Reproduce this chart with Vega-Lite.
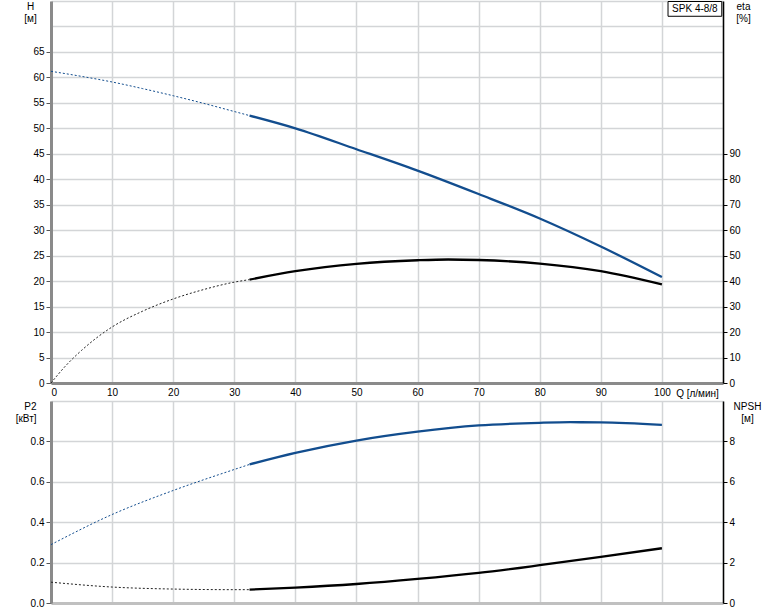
{
  "$schema": "https://vega.github.io/schema/vega-lite/v6.json",
  "padding": {"left": 15, "top": 1, "right": 5, "bottom": 5},
  "background": "white",
  "config": {
    "view": {"stroke": null},
    "font": "Liberation Sans",
    "axis": {
      "labelFont": "Liberation Sans", "labelFontSize": 10, "labelColor": "#000",
      "titleFont": "Liberation Sans", "titleFontSize": 10, "titleFontWeight": "normal", "titleColor": "#000",
      "gridColor": "#d3d5d7", "gridWidth": 1.5, "titleLineHeight": 12, "labelOverlap": false
    }
  },
  "datasets": {
    "h": [
      {"Q": 0, "H": 61.2, "part": "d"}, {"Q": 5, "H": 60.2, "part": "d"}, {"Q": 10, "H": 59.1, "part": "d"},
      {"Q": 15, "H": 57.8, "part": "d"}, {"Q": 20, "H": 56.4, "part": "d"}, {"Q": 25, "H": 54.9, "part": "d"},
      {"Q": 30, "H": 53.3, "part": "d"}, {"Q": 32.5, "H": 52.5, "part": "d"},
      {"Q": 32.5, "H": 52.5, "part": "s"}, {"Q": 40, "H": 50.0, "part": "s"}, {"Q": 50, "H": 45.9, "part": "s"},
      {"Q": 60, "H": 41.7, "part": "s"}, {"Q": 70, "H": 37.1, "part": "s"}, {"Q": 80, "H": 32.3, "part": "s"},
      {"Q": 90, "H": 26.8, "part": "s"}, {"Q": 100, "H": 20.8, "part": "s"}
    ],
    "eta": [
      {"Q": 0, "eta": 0, "part": "d"}, {"Q": 2.5, "eta": 7.0, "part": "d"}, {"Q": 5, "eta": 12.8, "part": "d"},
      {"Q": 7.5, "eta": 17.8, "part": "d"}, {"Q": 10, "eta": 22.0, "part": "d"},
      {"Q": 15, "eta": 28.2, "part": "d"}, {"Q": 20, "eta": 33.0, "part": "d"}, {"Q": 25, "eta": 36.7, "part": "d"},
      {"Q": 30, "eta": 39.6, "part": "d"}, {"Q": 32.5, "eta": 40.6, "part": "d"},
      {"Q": 32.5, "eta": 40.6, "part": "s"}, {"Q": 40, "eta": 43.9, "part": "s"}, {"Q": 50, "eta": 46.8, "part": "s"},
      {"Q": 60, "eta": 48.2, "part": "s"}, {"Q": 65, "eta": 48.5, "part": "s"}, {"Q": 70, "eta": 48.3, "part": "s"},
      {"Q": 80, "eta": 46.9, "part": "s"}, {"Q": 90, "eta": 43.9, "part": "s"}, {"Q": 100, "eta": 38.7, "part": "s"}
    ],
    "p2": [
      {"Q": 0, "P2": 0.289, "part": "d"}, {"Q": 10, "P2": 0.438, "part": "d"}, {"Q": 20, "P2": 0.557, "part": "d"},
      {"Q": 30, "P2": 0.661, "part": "d"}, {"Q": 32.5, "P2": 0.686, "part": "d"},
      {"Q": 32.5, "P2": 0.686, "part": "s"}, {"Q": 40, "P2": 0.743, "part": "s"}, {"Q": 50, "P2": 0.804, "part": "s"},
      {"Q": 60, "P2": 0.848, "part": "s"}, {"Q": 70, "P2": 0.879, "part": "s"}, {"Q": 80, "P2": 0.892, "part": "s"},
      {"Q": 85, "P2": 0.895, "part": "s"}, {"Q": 90, "P2": 0.894, "part": "s"}, {"Q": 100, "P2": 0.882, "part": "s"}
    ],
    "npsh": [
      {"Q": 0, "NPSH": 1.03, "part": "d"}, {"Q": 10, "NPSH": 0.79, "part": "d"}, {"Q": 20, "NPSH": 0.69, "part": "d"},
      {"Q": 30, "NPSH": 0.66, "part": "d"}, {"Q": 32.5, "NPSH": 0.66, "part": "d"},
      {"Q": 32.5, "NPSH": 0.66, "part": "s"}, {"Q": 40, "NPSH": 0.76, "part": "s"}, {"Q": 50, "NPSH": 0.94, "part": "s"},
      {"Q": 60, "NPSH": 1.19, "part": "s"}, {"Q": 70, "NPSH": 1.49, "part": "s"}, {"Q": 80, "NPSH": 1.87, "part": "s"},
      {"Q": 90, "NPSH": 2.28, "part": "s"}, {"Q": 100, "NPSH": 2.71, "part": "s"}
    ],
    "label": [{"name": "SPK 4-8/8"}]
  },
  "bounds": "flush",
  "spacing": 18,
  "vconcat": [
    {
      "width": 672,
      "height": 382,
      "layer": [
        {
          "layer": [
            {
              "data": {"name": "h"},
              "transform": [{"filter": "datum.part == 'd'"}],
              "mark": {"type": "line", "color": "#124d8e", "strokeWidth": 1, "strokeDash": [2, 2], "interpolate": "monotone"},
              "encoding": {
                "x": {
                  "field": "Q", "type": "quantitative",
                  "scale": {"domain": [0, 110], "nice": false, "zero": false},
                  "axis": {
                    "values": [0, 10, 20, 30, 40, 50, 60, 70, 80, 90, 100, 110], "tickCount": 30, "format": "d",
                    "labelExpr": "datum.value > 100 ? '' : datum.label",
                    "labelFontSize": {"condition": {"test": "datum.value > 100", "value": 0}, "value": 10},
                    "ticks": false, "labelPadding": 4,
                    "domainColor": "#8a8a8a", "domainWidth": 3,
                    "title": "Q [л/мин]", "titleX": 646, "titleY": 10,
                    "titleAlign": "center", "titleBaseline": "middle"
                  }
                },
                "y": {
                  "field": "H", "type": "quantitative",
                  "scale": {"domain": [0, 75], "nice": false},
                  "axis": {
                    "values": [0, 5, 10, 15, 20, 25, 30, 35, 40, 45, 50, 55, 60, 65, 70, 75], "tickCount": 30, "format": "d",
                    "labelExpr": "datum.value > 65 ? '' : datum.label",
                    "labelFontSize": {"condition": {"test": "datum.value > 65", "value": 0}, "value": 10},
                    "tickOpacity": {"condition": {"test": "datum.value > 65", "value": 0}, "value": 1},
                    "tickSize": 5, "tickColor": "#555", "labelPadding": 2,
                    "domainColor": "#8a8a8a", "domainWidth": 3,
                    "title": ["H", "[м]"], "titleAngle": 0, "titleAlign": "center", "titleBaseline": "top",
                    "titleX": -21, "titleY": 0
                  }
                }
              }
            },
            {
              "data": {"name": "h"},
              "transform": [{"filter": "datum.part == 's'"}],
              "mark": {"type": "line", "color": "#124d8e", "strokeWidth": 2.3, "interpolate": "monotone"},
              "encoding": {
                "x": {"field": "Q", "type": "quantitative"},
                "y": {"field": "H", "type": "quantitative"}
              }
            },
            {
              "data": {"name": "label"},
              "mark": {"type": "rect", "fill": "white", "stroke": "#000", "strokeWidth": 1},
              "encoding": {
                "x": {"datum": 101},
                "x2": {"datum": 109.8},
                "y": {"datum": 72},
                "y2": {"datum": 74.9}
              }
            },
            {
              "data": {"name": "label"},
              "mark": {"type": "text", "fontSize": 10, "font": "Liberation Sans", "color": "#000", "align": "center", "baseline": "middle"},
              "encoding": {
                "x": {"datum": 105.4},
                "y": {"datum": 73.5},
                "text": {"field": "name"}
              }
            }
          ]
        },
        {
          "layer": [
            {
              "data": {"name": "eta"},
              "transform": [{"filter": "datum.part == 'd'"}],
              "mark": {"type": "line", "color": "#222", "strokeWidth": 1, "strokeDash": [2, 2], "interpolate": "monotone"},
              "encoding": {
                "x": {"field": "Q", "type": "quantitative"},
                "y": {
                  "field": "eta", "type": "quantitative",
                  "scale": {"domain": [0, 150], "nice": false},
                  "axis": {
                    "orient": "right", "grid": false,
                    "values": [0, 10, 20, 30, 40, 50, 60, 70, 80, 90, 100, 110, 120, 130, 140, 150], "tickCount": 30, "format": "d",
                    "labelExpr": "datum.value > 90 ? '' : datum.label",
                    "labelFontSize": {"condition": {"test": "datum.value > 90", "value": 0}, "value": 10},
                    "tickOpacity": {"condition": {"test": "datum.value > 90", "value": 0}, "value": 1},
                    "tickSize": 4, "tickColor": "#000", "labelPadding": 2,
                    "domainColor": "#000", "domainWidth": 1.5,
                    "title": ["eta", "[%]"], "titleAngle": 0, "titleAlign": "center", "titleBaseline": "top",
                    "titleX": 20, "titleY": 0
                  }
                }
              }
            },
            {
              "data": {"name": "eta"},
              "transform": [{"filter": "datum.part == 's'"}],
              "mark": {"type": "line", "color": "#000", "strokeWidth": 2.3, "interpolate": "monotone"},
              "encoding": {
                "x": {"field": "Q", "type": "quantitative"},
                "y": {"field": "eta", "type": "quantitative"}
              }
            }
          ]
        }
      ],
      "resolve": {"scale": {"y": "independent"}}
    },
    {
      "width": 672,
      "height": 202,
      "layer": [
        {
          "layer": [
            {
              "data": {"name": "p2"},
              "transform": [{"filter": "datum.part == 'd'"}],
              "mark": {"type": "line", "color": "#124d8e", "strokeWidth": 1, "strokeDash": [2, 2], "interpolate": "monotone"},
              "encoding": {
                "x": {
                  "field": "Q", "type": "quantitative",
                  "scale": {"domain": [0, 110], "nice": false, "zero": false},
                  "axis": {
                    "values": [0, 10, 20, 30, 40, 50, 60, 70, 80, 90, 100, 110], "tickCount": 30,
                    "labels": false, "ticks": false, "title": null,
                    "domainColor": "#c0c0c0", "domainWidth": 3
                  }
                },
                "y": {
                  "field": "P2", "type": "quantitative",
                  "scale": {"domain": [0, 1], "nice": false},
                  "axis": {
                    "values": [0, 0.2, 0.4, 0.6, 0.8, 1.0], "tickCount": 30,
                    "format": ".1f",
                    "labelExpr": "datum.value > 0.9 ? '' : datum.label",
                    "labelFontSize": {"condition": {"test": "datum.value > 0.9", "value": 0}, "value": 10},
                    "tickOpacity": {"condition": {"test": "datum.value > 0.9", "value": 0}, "value": 1},
                    "tickSize": 5, "tickColor": "#555", "labelPadding": 2,
                    "domainColor": "#8a8a8a", "domainWidth": 3,
                    "title": ["P2", "[кВт]"], "titleAngle": 0, "titleAlign": "right", "titleBaseline": "top",
                    "titleX": -15, "titleY": 0
                  }
                }
              }
            },
            {
              "data": {"name": "p2"},
              "transform": [{"filter": "datum.part == 's'"}],
              "mark": {"type": "line", "color": "#124d8e", "strokeWidth": 2.3, "interpolate": "monotone"},
              "encoding": {
                "x": {"field": "Q", "type": "quantitative"},
                "y": {"field": "P2", "type": "quantitative"}
              }
            }
          ]
        },
        {
          "layer": [
            {
              "data": {"name": "npsh"},
              "transform": [{"filter": "datum.part == 'd'"}],
              "mark": {"type": "line", "color": "#222", "strokeWidth": 1, "strokeDash": [2, 2], "interpolate": "monotone"},
              "encoding": {
                "x": {"field": "Q", "type": "quantitative"},
                "y": {
                  "field": "NPSH", "type": "quantitative",
                  "scale": {"domain": [0, 10], "nice": false},
                  "axis": {
                    "orient": "right", "grid": false,
                    "values": [0, 2, 4, 6, 8, 10], "tickCount": 30, "format": "d",
                    "labelExpr": "datum.value > 9 ? '' : datum.label",
                    "labelFontSize": {"condition": {"test": "datum.value > 9", "value": 0}, "value": 10},
                    "tickOpacity": {"condition": {"test": "datum.value > 9", "value": 0}, "value": 1},
                    "tickSize": 4, "tickColor": "#000", "labelPadding": 2,
                    "domainColor": "#000", "domainWidth": 1.5,
                    "title": ["NPSH", "[м]"], "titleAngle": 0, "titleAlign": "center", "titleBaseline": "top",
                    "titleX": 24, "titleY": 0
                  }
                }
              }
            },
            {
              "data": {"name": "npsh"},
              "transform": [{"filter": "datum.part == 's'"}],
              "mark": {"type": "line", "color": "#000", "strokeWidth": 2.3, "interpolate": "monotone"},
              "encoding": {
                "x": {"field": "Q", "type": "quantitative"},
                "y": {"field": "NPSH", "type": "quantitative"}
              }
            }
          ]
        }
      ],
      "resolve": {"scale": {"y": "independent"}}
    }
  ]
}
